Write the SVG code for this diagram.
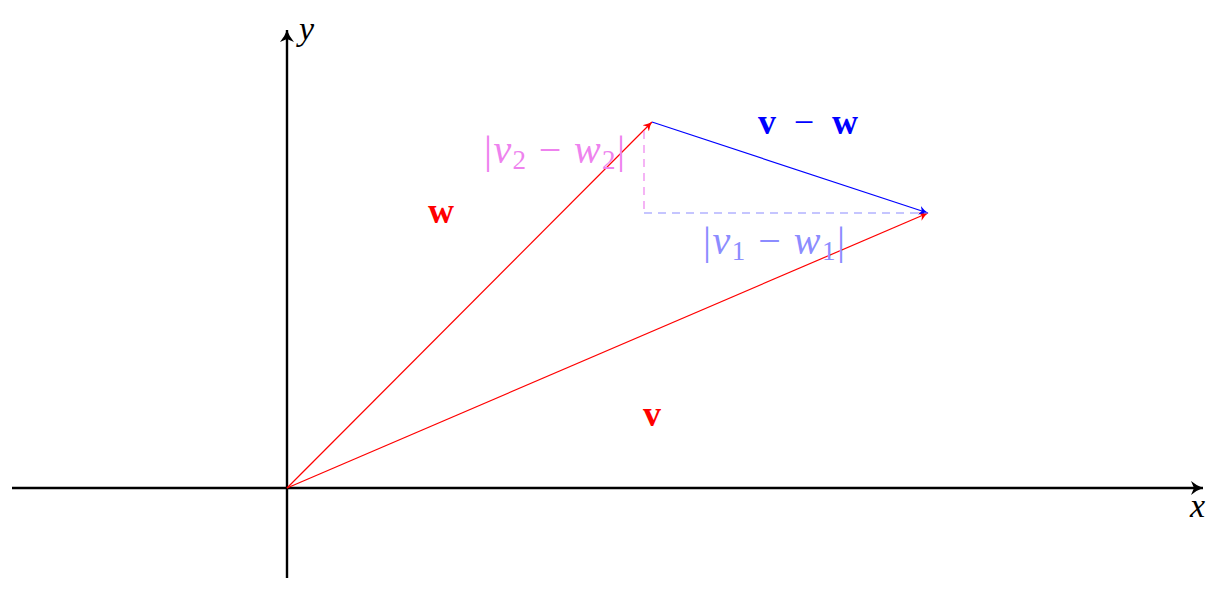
<svg xmlns="http://www.w3.org/2000/svg" width="1228" height="606" viewBox="0 0 1228 606">
<style>
.ax{stroke:#000;stroke-width:2.4;fill:none}
.vec{stroke-width:1.2;fill:none}
.m{font-family:"Liberation Serif","DejaVu Serif",serif;font-style:italic}
.b{font-family:"Liberation Serif","DejaVu Serif",serif;font-weight:bold}
.n{font-style:normal}
</style>
<defs>
<marker id="ak" markerUnits="userSpaceOnUse" markerWidth="20" markerHeight="20" refX="12" refY="8" orient="auto" viewBox="0 0 20 16">
<path d="M0,1 Q6,6 12,8 Q6,10 0,15 L3,8 Z" fill="#000"/>
</marker>
<marker id="ar" markerUnits="userSpaceOnUse" markerWidth="14" markerHeight="14" refX="9" refY="6" orient="auto" viewBox="0 0 14 12">
<path d="M0,1.5 Q5,5 9,6 Q5,7 0,10.5 L2.5,6 Z" fill="#f00"/>
</marker>
<marker id="ab" markerUnits="userSpaceOnUse" markerWidth="14" markerHeight="14" refX="9" refY="6" orient="auto" viewBox="0 0 14 12">
<path d="M0,1.5 Q5,5 9,6 Q5,7 0,10.5 L2.5,6 Z" fill="#00f"/>
</marker>
</defs>
<g id="axes">
<line class="ax" x1="12" y1="488" x2="1203" y2="488" marker-end="url(#ak)"/>
<line class="ax" x1="287" y1="578" x2="287" y2="30" marker-end="url(#ak)"/>
</g>
<g id="connectors">
<line class="vec" stroke="#f00" x1="287" y1="488" x2="652" y2="122" marker-end="url(#ar)"/>
<line class="vec" stroke="#f00" x1="287" y1="488" x2="928" y2="213" marker-end="url(#ar)"/>
<line class="vec" stroke="#00f" x1="652" y1="122" x2="928" y2="213" marker-end="url(#ab)"/>
<line stroke="#ee82ee" stroke-width="1.2" stroke-dasharray="8,6" x1="644" y1="131" x2="644" y2="213"/>
<line stroke="#8c8cff" stroke-width="1.2" stroke-dasharray="8,6" x1="644" y1="213" x2="928" y2="213"/>
</g>
<g id="label-y"><text class="m" x="299" y="40" font-size="34">y</text></g>
<g id="label-x"><text class="m" x="1190" y="517" font-size="34">x</text></g>
<g id="label-w"><text class="b" x="441" y="223" font-size="36" fill="#f00" text-anchor="middle">w</text></g>
<g id="label-v"><text class="b" x="652" y="426" font-size="36" fill="#f00" text-anchor="middle">v</text></g>
<g id="label-vw"><text class="b" x="758" y="134" font-size="36" fill="#00f" textLength="100" lengthAdjust="spacing">v<tspan font-weight="normal"> − </tspan>w</text></g>
<g id="label-v2w2"><text class="m" x="484" y="163" font-size="40" fill="#ee82ee" textLength="141" lengthAdjust="spacing"><tspan class="n">|</tspan>v<tspan class="n" font-size="27" dy="6">2</tspan><tspan class="n" dy="-6"> − </tspan>w<tspan class="n" font-size="27" dy="6">2</tspan><tspan class="n" dy="-6">|</tspan></text></g>
<g id="label-v1w1"><text class="m" x="703" y="254" font-size="40" fill="#8c8cff" textLength="142" lengthAdjust="spacing"><tspan class="n">|</tspan>v<tspan class="n" font-size="27" dy="6">1</tspan><tspan class="n" dy="-6"> − </tspan>w<tspan class="n" font-size="27" dy="6">1</tspan><tspan class="n" dy="-6">|</tspan></text></g>
</svg>
